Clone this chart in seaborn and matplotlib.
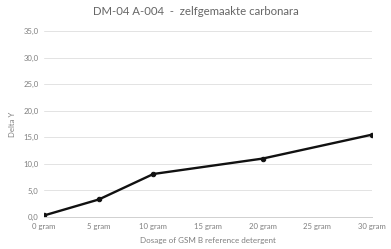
import seaborn as sns
import matplotlib.pyplot as plt
import pandas as pd

dosage = [0, 5, 10, 20, 30]
delta_y = [0.3, 3.3, 8.1, 11.0, 15.5]
x_ticks = [0, 5, 10, 15, 20, 25, 30]
x_labels = [f'{t} gram' for t in x_ticks]
y_ticks = [0, 5, 10, 15, 20, 25, 30, 35]

df = pd.DataFrame({'dosage': dosage, 'delta_y': delta_y})

sns.set_style('white')
plt.rcParams['font.family'] = ['Lato', 'DejaVu Sans']

fig = plt.figure(figsize=(3.91, 2.49), dpi=100)
ax = fig.add_axes([0.113, 0.1285, 0.838, 0.7465])

sns.lineplot(data=df, x='dosage', y='delta_y', ax=ax, color='#111111',
             linewidth=1.7, marker='o', markersize=3.2, markeredgecolor='#111111')

ax.set_xlim(0, 30)
ax.set_ylim(0, 35)
ax.set_xticks(x_ticks)
ax.set_xticklabels(x_labels)
ax.set_yticks(y_ticks)
ax.set_yticklabels([f'{t:.1f}'.replace('.', ',') for t in y_ticks])
ax.tick_params(axis='both', labelsize=5.6, colors='#7f7f7f', length=0, pad=4)
ax.tick_params(axis='x', length=2.5, color='#d0d0d0', width=0.6, pad=2)
ax.grid(axis='y', color='#e3e3e3', linewidth=0.7)
for side in ['top', 'right', 'left']:
    ax.spines[side].set_visible(False)
ax.spines['bottom'].set_color('#d0d0d0')
ax.spines['bottom'].set_linewidth(0.7)

ax.set_xlabel('Dosage of GSM B reference detergent', fontsize=5.8, color='#7f7f7f', labelpad=5)
ax.set_ylabel('Delta Y', fontsize=5.6, color='#7f7f7f', labelpad=5)
fig.text(0.5, 0.952, 'DM-04 A-004  -  zelfgemaakte carbonara', fontsize=8.2,
         color='#666666', ha='center', va='center')

fig.savefig('out.png', dpi=100)
